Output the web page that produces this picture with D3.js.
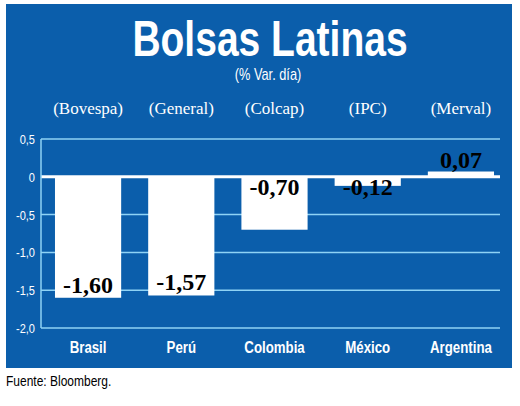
<!DOCTYPE html><html><head><meta charset="utf-8">
<script src="https://cdn.jsdelivr.net/npm/d3@7"></script>
<style>body{margin:0;background:#fff}</style></head><body>
<svg id="c" width="520" height="406"></svg>
<script>
const categories=["Brasil","Perú","Colombia","México","Argentina"];
const indices=["(Bovespa)","(General)","(Colcap)","(IPC)","(Merval)"];
const values=[-1.60,-1.57,-0.70,-0.12,0.07];
const ticks=[0.5,0,-0.5,-1.0,-1.5,-2.0];
const tickLabels=["0,5","0","-0,5","-1,0","-1,5","-2,0"];
const sans="'Liberation Sans',Arial,sans-serif";
const svg=d3.select("#c");
function ctext(g,x0,y0,sx){return g.append("text").attr("transform",`translate(${x0},${y0}) scale(${sx},1)`);}
svg.append("rect").attr("x",6).attr("y",4).attr("width",506).attr("height",364).attr("fill","#0b5eab");
const y=d3.scaleLinear().domain([-2,0.5]).range([328,139]);
const x=d3.scaleBand().domain(categories).range([41,508]).paddingInner(0.29).paddingOuter(0.15);
svg.append("g").selectAll("line").data(ticks).join("line").attr("x1",41).attr("x2",500)
 .attr("y1",d=>y(d)).attr("y2",d=>y(d)).attr("stroke",d=>d===0?"#fff":"#8fd3f5").attr("stroke-width",d=>d===0?3:1.5);
svg.append("line").attr("x1",41).attr("x2",41).attr("y1",y(0.5)).attr("y2",y(-2)).attr("stroke","#8fd3f5").attr("stroke-width",1.5);
ticks.forEach((d,i)=>ctext(svg,35,y(d)+5,0.85).attr("text-anchor","end").attr("fill","#fff").attr("font-family",sans).attr("font-size",13).text(tickLabels[i]));
svg.append("g").selectAll("rect").data(values).join("rect").attr("x",(d,i)=>x(categories[i])).attr("width",x.bandwidth())
 .attr("y",d=>y(Math.max(0,d))).attr("height",d=>Math.abs(y(d)-y(0))).attr("fill","#fff");
svg.append("g").selectAll("text").data(values).join("text")
 .attr("x",(d,i)=>x(categories[i])+x.bandwidth()/2)
 .attr("y",d=>d>0?y(d)-4:(y(d)-y(0)>60?y(d)-5:y(0)+18))
 .attr("text-anchor","middle").attr("font-family","'Liberation Serif',serif").attr("font-weight","bold").attr("font-size",24).attr("fill","#000")
 .text(d=>d.toFixed(2).replace(".",","));
categories.forEach(d=>ctext(svg,x(d)+x.bandwidth()/2,353,0.78).attr("text-anchor","middle").attr("fill","#fff").attr("font-family",sans).attr("font-weight","bold").attr("font-size",17).text(d));
indices.forEach((d,i)=>svg.append("text").attr("x",x(categories[i])+x.bandwidth()/2).attr("y",114)
 .attr("text-anchor","middle").attr("fill","#fff").attr("font-family","'Liberation Serif',serif").attr("font-size",17).text(d));
ctext(svg,270,56,0.78).attr("text-anchor","middle").attr("fill","#fff").attr("font-family",sans).attr("font-weight","bold").attr("font-size",50).text("Bolsas Latinas");
ctext(svg,268,80,0.8).attr("text-anchor","middle").attr("fill","#fff").attr("font-family",sans).attr("font-size",16).text("(% Var. día)");
ctext(svg,6,386,0.8).attr("fill","#000").attr("font-family",sans).attr("font-size",15).text("Fuente: Bloomberg.");
</script></body></html>
